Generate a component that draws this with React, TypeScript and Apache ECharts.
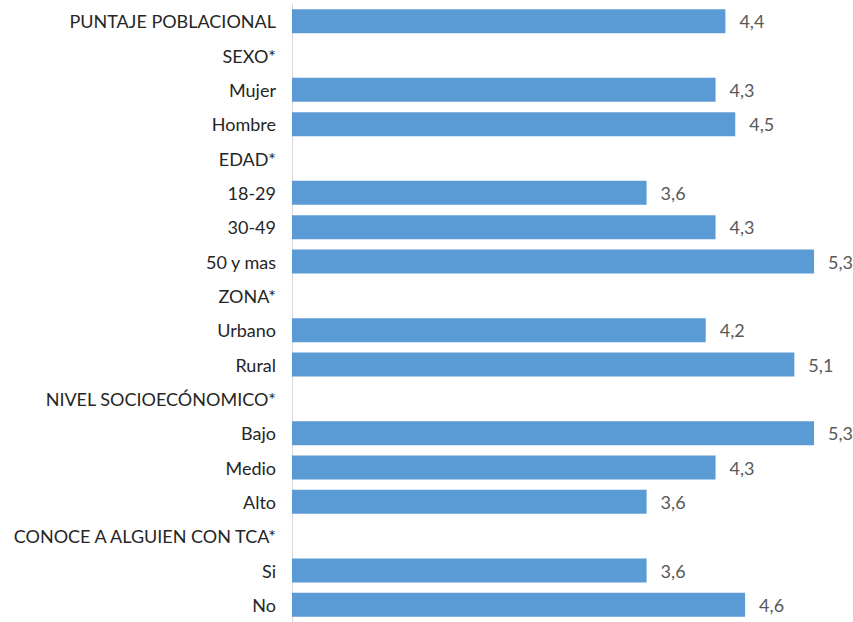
import React, { useEffect, useRef } from "react";
import * as echarts from "echarts";

const categories = [
  "PUNTAJE POBLACIONAL",
  "SEXO*",
  "Mujer",
  "Hombre",
  "EDAD*",
  "18-29",
  "30-49",
  "50 y mas",
  "ZONA*",
  "Urbano",
  "Rural",
  "NIVEL SOCIOECÓNOMICO*",
  "Bajo",
  "Medio",
  "Alto",
  "CONOCE A ALGUIEN CON TCA*",
  "Si",
  "No",
];

const values: (number | null)[] = [
  4.4,
  null,
  4.3,
  4.5,
  null,
  3.6,
  4.3,
  5.3,
  null,
  4.2,
  5.1,
  null,
  5.3,
  4.3,
  3.6,
  null,
  3.6,
  4.6,
];

const FONT = "Lato, 'Noto Sans', sans-serif";

export default function App() {
  const ref = useRef<HTMLDivElement>(null);
  useEffect(() => {
    if (!ref.current) return;
    const chart = echarts.init(ref.current, null, { renderer: "svg" });
    chart.setOption({
      animation: false,
      grid: { left: 292, top: 4, height: 619, width: 541.75, containLabel: false },
      xAxis: {
        type: "value",
        min: 0,
        max: 5.5,
        show: false,
      },
      yAxis: {
        type: "category",
        data: categories,
        inverse: true,
        axisLine: { show: true, lineStyle: { color: "#d9d9d9", width: 1 } },
        axisTick: { show: false },
        axisLabel: {
          color: "#262626",
          fontFamily: FONT,
          fontSize: 18,
          margin: 16,
        },
        splitLine: { show: false },
      },
      series: [
        {
          type: "bar",
          data: values,
          barWidth: 24,
          itemStyle: { color: "#5b9bd5" },
          label: {
            show: true,
            position: "right",
            distance: 14,
            color: "#595959",
            fontFamily: FONT,
            fontSize: 18,
            formatter: (p: any) =>
              p.value == null ? "" : Number(p.value).toFixed(1).replace(".", ","),
          },
        },
      ],
    });
    return () => chart.dispose();
  }, []);
  return (
    <div
      ref={ref}
      style={{ position: "fixed", left: 0, top: 0, width: 853, height: 622, background: "#fff" }}
    />
  );
}
